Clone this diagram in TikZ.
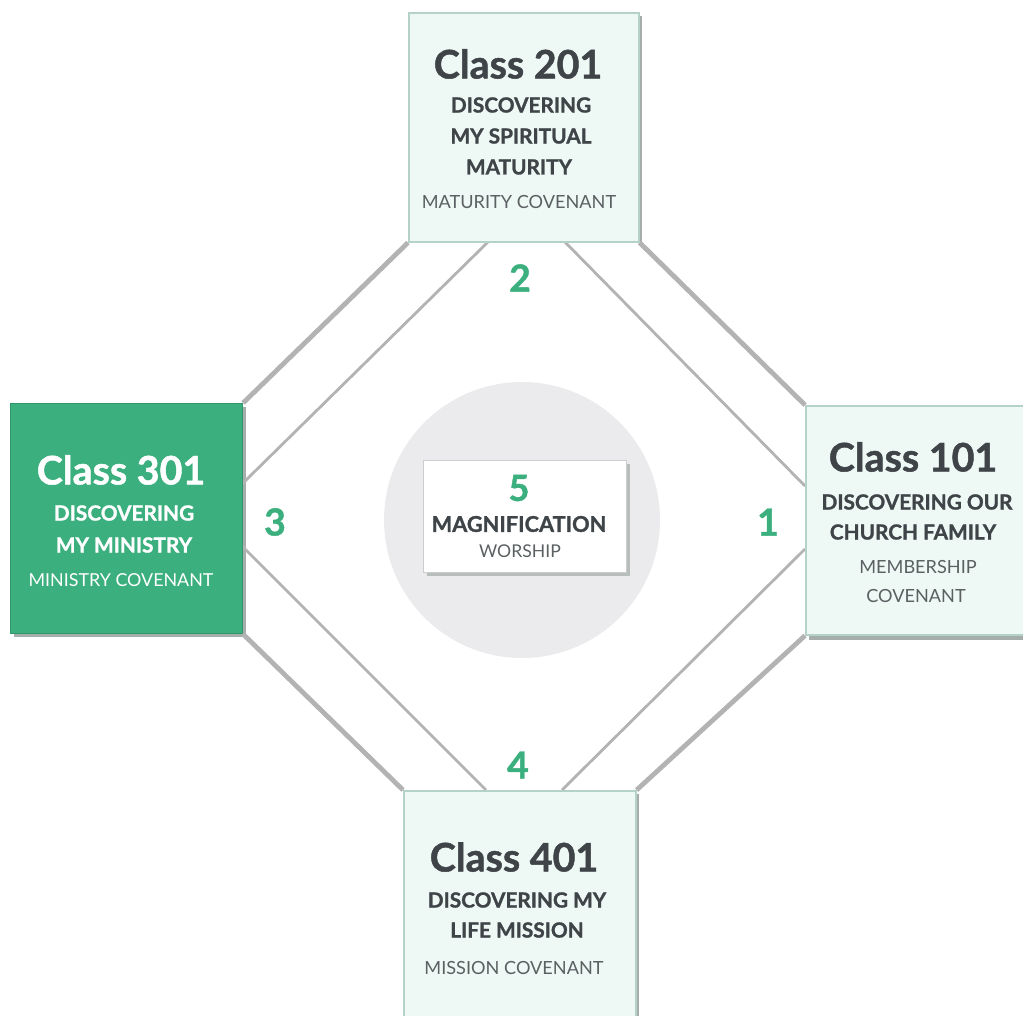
\documentclass[tikz,border=0pt]{standalone}
\usepackage{fontspec}
\setmainfont{Lato}[BoldFeatures={FakeBold=1.2}]
\usetikzlibrary{calc}
\definecolor{cgreen}{HTML}{3BAF7E}
\definecolor{ctext}{HTML}{3E4447}
\definecolor{cfill}{HTML}{EEF8F4}
\definecolor{cborder}{HTML}{B4D3C6}
\definecolor{cshadow}{HTML}{A6AEAB}
\definecolor{cline}{HTML}{B3B3B3}
\definecolor{ccircle}{HTML}{EBEBED}
\tikzset{
  classbox/.style={draw=cborder, line width=1.2pt, fill=cfill, minimum width=#1*0.75pt, minimum height=229*0.75pt, inner sep=0pt, anchor=north west},
  greenbox/.style={fill=cgreen, draw=cgreen!85!black, line width=0.8pt, minimum width=232*0.75pt, minimum height=230*0.75pt, inner sep=0pt, anchor=north west},
  outerline/.style={draw=cline, line width=3.6pt},
  innerline/.style={draw=cline, line width=2.1pt},
  ctitle/.style={font=\bfseries\fontsize{29.5}{32}\selectfont, text=ctext, inner sep=0pt},
  csub/.style={font=\bfseries\fontsize{15.6}{17}\selectfont, text=ctext, inner sep=0pt},
  ccov/.style={font=\fontsize{13.6}{15}\selectfont, text=ctext!85, inner sep=0pt},
  cnum/.style={font=\bfseries\fontsize{28}{30}\selectfont, text=cgreen, inner sep=0pt},
}
\begin{document}
\begin{tikzpicture}[x=0.75pt,y=-0.75pt]
\useasboundingbox (0,0) rectangle (1023,1015);
% shadows of boxes
\fill[cshadow] (412,16) rectangle (642,242);
\fill[cshadow] (14,407) rectangle (246,637);
\fill[cshadow] (809,409) rectangle (1027,640);
\fill[cshadow] (407,794) rectangle (639,1019);
% boxes
\node[classbox=230] (t) at (408,12) {};
\node[greenbox] (l) at (10,403) {};
\node[classbox=222] (r) at (805,405) {};
\node[classbox=232] (b) at (403,790) {};
% connectors
\coordinate (tin1) at (490,240);
\coordinate (tin2) at (563,240);
\coordinate (lin1) at (242,484);
\coordinate (lin2) at (242,546);
\coordinate (rin1) at (805,486);
\coordinate (rin2) at (805,549);
\coordinate (bin1) at (486,790);
\coordinate (bin2) at (562,790);
\draw[outerline] (t.south west) -- (l.north east);
\draw[outerline] (t.south east) -- (r.north west);
\draw[outerline] (l.south east) -- (b.north west);
\draw[outerline] (r.south west) -- (b.north east);
\draw[innerline] (tin1) -- (lin1);
\draw[innerline] (tin2) -- (rin1);
\draw[innerline] (lin2) -- (bin1);
\draw[innerline] (rin2) -- (bin2);
% redraw boxes on top
\node[classbox=230] at (408,12) {};
\node[greenbox] at (10,403) {};
\node[classbox=222] at (805,405) {};
\node[classbox=232] at (403,790) {};
% center
\node[circle, fill=ccircle, minimum size=276*0.75pt, inner sep=0pt] (c) at (522,520) {};
\fill[cshadow!80] (427,464) rectangle (630,576);
\node[draw=black!20, fill=white, minimum width=203*0.75pt, minimum height=112*0.75pt, inner sep=0pt] (cb) at (524.5,516) {};
\node[cnum, font=\bfseries\fontsize{27}{30}\selectfont] (n5) at (519,488) {5};
\node[csub, font=\bfseries\fontsize{16.3}{18}\selectfont] (mag) at (519,524) {MAGNIFICATION};
\node[ccov, font=\fontsize{13.2}{15}\selectfont] (wor) at (520,551) {WORSHIP};
% numbers
\node[cnum] (n1) at (768,522) {1};
\node[cnum] (n2) at (520,278) {2};
\node[cnum] (n3) at (275,522) {3};
\node[cnum] (n4) at (518,765) {4};
% top box text
\node[ctitle] (t1) at (518,64) {Class 201};
\node[csub] (t2) at (521,105) {DISCOVERING};
\node[csub] (t3) at (521,136) {MY SPIRITUAL};
\node[csub] (t4) at (519,167) {MATURITY};
\node[ccov] (t5) at (519,202) {MATURITY COVENANT};
% left box text
\node[ctitle, text=white] (l1) at (121,470) {Class 301};
\node[csub, text=white] (l2) at (124,513) {DISCOVERING};
\node[csub, text=white] (l3) at (124,545) {MY MINISTRY};
\node[ccov, text=white, font=\fontsize{13.4}{15}\selectfont] (l4) at (121,580) {MINISTRY COVENANT};
% right box text
\node[ctitle] (r1) at (913,457) {Class 101};
\node[csub] (r2) at (917,502) {DISCOVERING OUR};
\node[csub] (r3) at (913,532) {CHURCH FAMILY};
\node[ccov] (r4) at (918,567) {MEMBERSHIP};
\node[ccov] (r5) at (916,596) {COVENANT};
% bottom box text
\node[ctitle] (b1) at (514,857) {Class 401};
\node[csub] (b2) at (517,900) {DISCOVERING MY};
\node[csub] (b3) at (517,930) {LIFE MISSION};
\node[ccov] (b4) at (514,968) {MISSION COVENANT};
\end{tikzpicture}
\end{document}
